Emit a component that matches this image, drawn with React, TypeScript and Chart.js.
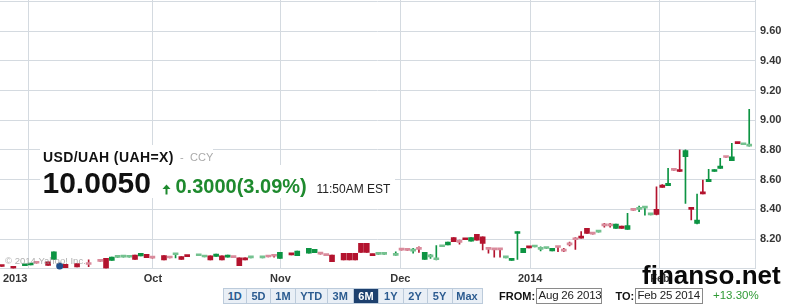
import React, { useEffect, useRef } from "react";
import { Chart, registerables } from "chart.js";

Chart.register(...registerables);

// Trading-day slot of each candle (Aug 26 2013 .. Feb 25 2014)
const dayIndex = [
  0, 2, 4, 5, 6, 8, 9, 11, 13, 15, 17, 18, 19, 20, 21, 22, 23, 24, 25, 26,
  28, 29, 30, 31, 32, 34, 35, 36, 37, 38, 39, 40, 41, 42, 43, 45, 46, 47, 48, 50,
  51, 53, 54, 55, 56, 57, 59, 60, 61, 62, 63, 64, 65, 66, 68, 69, 70, 71, 72, 73,
  74, 75, 76, 77, 78, 79, 80, 81, 82, 83, 84, 85, 86, 87, 88, 89, 90, 91, 92, 93,
  94, 95, 96, 97, 98, 99, 100, 101, 102, 103, 104, 105, 106, 107, 108, 109, 110, 111, 112, 113,
  114, 115, 116, 117, 118, 119, 120, 121, 122, 123, 124, 125, 126, 127, 128, 129,
];
const opens = [
  8.022, 8.013, 8.02, 8.025, 8.043, 8.047, 8.063, 8.03, 8.034, 8.03, 8.052, 8.07, 8.056, 8.076, 8.078, 8.077, 8.092, 8.086, 8.097, 8.073,
  8.088, 8.074, 8.094, 8.081, 8.087, 8.087, 8.079, 8.086, 8.083, 8.086, 8.077, 8.077, 8.074, 8.074, 8.073, 8.073, 8.083, 8.085, 8.07, 8.103,
  8.088, 8.104, 8.108, 8.103, 8.092, 8.092, 8.104, 8.104, 8.104, 8.171, 8.171, 8.099, 8.097, 8.097, 8.09, 8.127, 8.125, 8.118, 8.135, 8.063,
  8.08, 8.06, 8.148, 8.16, 8.209, 8.18, 8.205, 8.186, 8.232, 8.215, 8.133, 8.13, 8.13, 8.073, 8.055, 8.237, 8.108, 8.148, 8.146, 8.13,
  8.136, 8.12, 8.146, 8.122, 8.165, 8.2, 8.22, 8.272, 8.237, 8.246, 8.292, 8.29, 8.272, 8.287, 8.265, 8.397, 8.4, 8.408, 8.363, 8.4,
  8.564, 8.559, 8.666, 8.665, 8.755, 8.413, 8.305, 8.518, 8.586, 8.655, 8.676, 8.752, 8.727, 8.849, 8.835, 8.826,
];
const highs = [
  8.022, 8.013, 8.028, 8.036, 8.043, 8.047, 8.114, 8.03, 8.034, 8.059, 8.052, 8.07, 8.079, 8.078, 8.08, 8.079, 8.092, 8.104, 8.097, 8.073,
  8.088, 8.074, 8.097, 8.081, 8.087, 8.089, 8.081, 8.086, 8.099, 8.086, 8.092, 8.077, 8.074, 8.074, 8.075, 8.075, 8.083, 8.092, 8.11, 8.103,
  8.119, 8.137, 8.13, 8.103, 8.092, 8.092, 8.104, 8.104, 8.104, 8.171, 8.171, 8.099, 8.1, 8.1, 8.114, 8.127, 8.125, 8.137, 8.148, 8.11,
  8.097, 8.155, 8.152, 8.18, 8.209, 8.193, 8.205, 8.209, 8.232, 8.215, 8.137, 8.133, 8.133, 8.076, 8.07, 8.249, 8.137, 8.148, 8.149, 8.148,
  8.139, 8.137, 8.146, 8.137, 8.18, 8.21, 8.25, 8.272, 8.237, 8.248, 8.305, 8.305, 8.3, 8.287, 8.373, 8.397, 8.422, 8.413, 8.367, 8.552,
  8.566, 8.676, 8.666, 8.8, 8.8, 8.413, 8.503, 8.597, 8.67, 8.668, 8.743, 8.752, 8.845, 8.849, 8.838, 9.073,
];
const lows = [
  8.015, 8.003, 8.02, 8.025, 8.037, 8.022, 8.063, 8.007, 8.012, 8.013, 8.049, 8.003, 8.056, 8.076, 8.078, 8.077, 8.063, 8.086, 8.074, 8.071,
  8.059, 8.072, 8.072, 8.063, 8.081, 8.087, 8.079, 8.059, 8.083, 8.059, 8.077, 8.075, 8.02, 8.059, 8.073, 8.073, 8.079, 8.077, 8.07, 8.093,
  8.088, 8.104, 8.108, 8.098, 8.088, 8.047, 8.059, 8.059, 8.059, 8.11, 8.11, 8.088, 8.097, 8.097, 8.09, 8.125, 8.123, 8.104, 8.11, 8.063,
  8.07, 8.059, 8.148, 8.16, 8.182, 8.165, 8.195, 8.186, 8.193, 8.126, 8.104, 8.077, 8.077, 8.073, 8.055, 8.063, 8.108, 8.14, 8.146, 8.12,
  8.136, 8.12, 8.115, 8.115, 8.153, 8.13, 8.205, 8.238, 8.233, 8.246, 8.279, 8.279, 8.272, 8.272, 8.265, 8.393, 8.384, 8.36, 8.363, 8.362,
  8.548, 8.559, 8.662, 8.653, 8.44, 8.328, 8.302, 8.503, 8.586, 8.655, 8.676, 8.749, 8.727, 8.842, 8.835, 8.826,
];
const closes = [
  8.015, 8.003, 8.028, 8.036, 8.037, 8.022, 8.114, 8.007, 8.012, 8.028, 8.049, 8.003, 8.079, 8.078, 8.08, 8.079, 8.063, 8.104, 8.074, 8.071,
  8.059, 8.072, 8.097, 8.063, 8.081, 8.089, 8.081, 8.059, 8.099, 8.059, 8.092, 8.075, 8.02, 8.059, 8.075, 8.075, 8.079, 8.084, 8.11, 8.093,
  8.119, 8.137, 8.13, 8.098, 8.088, 8.047, 8.059, 8.059, 8.059, 8.11, 8.11, 8.088, 8.1, 8.1, 8.094, 8.125, 8.123, 8.122, 8.13, 8.11,
  8.083, 8.065, 8.152, 8.18, 8.182, 8.177, 8.195, 8.209, 8.193, 8.171, 8.13, 8.127, 8.127, 8.076, 8.07, 8.245, 8.137, 8.14, 8.149, 8.133,
  8.139, 8.137, 8.143, 8.118, 8.16, 8.195, 8.205, 8.238, 8.233, 8.248, 8.288, 8.288, 8.3, 8.272, 8.29, 8.393, 8.402, 8.412, 8.367, 8.366,
  8.548, 8.575, 8.662, 8.655, 8.795, 8.4, 8.327, 8.503, 8.602, 8.668, 8.692, 8.749, 8.754, 8.842, 8.838, 8.83,
];

// Marker (event dot near the bottom)
const eventIdx = [10];
const eventValue = [8.018];

// Axis ticks
const monthTickPos = [4.6, 26.1, 48.1, 68.8, 91.2, 113.6];
const monthLabels = ["2013", "Oct", "Nov", "Dec", "2014", "Feb"];
const yGridValues = [8.0, 8.2, 8.4, 8.6, 8.8, 9.0, 9.2, 9.4, 9.6, 9.8];
const yLabelValues = [8.2, 8.4, 8.6, 8.8, 9.0, 9.2, 9.4, 9.6];

const rangeButtons = ["1D", "5D", "1M", "YTD", "3M", "6M", "1Y", "2Y", "5Y", "Max"];
const rangeWidths = [23.5, 24, 25, 31.5, 26.5, 25, 24.5, 24, 25, 30];
const selectedRange = "6M";

const FONT = '"Liberation Sans", Arial, Helvetica, sans-serif';
const GRID = "#d4dae0";
const UP = "#0d9443";
const DN = "#b3132e";
const UP_L = "#74c18f";
const DN_L = "#d98a9b";

function txt(left: number, top: number, size: number, weight: any, color: string, extra?: React.CSSProperties): React.CSSProperties {
  return {
    position: "absolute",
    left,
    top,
    fontSize: size,
    fontWeight: weight,
    color,
    lineHeight: `${size}px`,
    whiteSpace: "nowrap",
    fontFamily: FONT,
    ...(extra || {}),
  };
}

export default function App() {
  const ref = useRef<HTMLCanvasElement>(null);

  useEffect(() => {
    const canvas = ref.current;
    if (!canvas) return;
    const isUp = (i: number) => closes[i] >= opens[i];
    const small = (i: number) => Math.abs(closes[i] - opens[i]) < 0.006;
    const bodyData = dayIndex.map((x, i) => ({
      x,
      y: [Math.min(opens[i], closes[i]), Math.max(opens[i], closes[i])],
    }));
    const wickData = dayIndex.map((x, i) => ({ x, y: [lows[i], highs[i]] }));
    const bodyColors = dayIndex.map((_, i) =>
      isUp(i) ? (small(i) ? UP_L : UP) : small(i) ? DN_L : DN
    );
    const wickColors = dayIndex.map((_, i) => (isUp(i) ? UP : DN));

    const labelsPlugin = {
      id: "customLabels",
      afterDraw(chart: any) {
        const c = chart.ctx;
        const xs = chart.scales.x;
        const ys = chart.scales.y;
        c.save();
        c.fillStyle = "#363636";
        c.font = `bold 11px ${FONT}`;
        c.textBaseline = "alphabetic";
        c.textAlign = "left";
        monthTickPos.forEach((v, i) => {
          const px = xs.getPixelForValue(v);
          const w = c.measureText(monthLabels[i]).width;
          // labels too close to the left edge are pinned to it
          let left = px - xs.left < 40 ? xs.left + 3 : px - w / 2;
          c.fillText(monthLabels[i], left, 282);
        });
        c.textBaseline = "middle";
        yLabelValues.forEach((v) => {
          c.fillText(v.toFixed(2), ys.left + 5, ys.getPixelForValue(v));
        });
        c.font = `9.5px ${FONT}`;
        c.fillStyle = "rgba(150,150,150,0.75)";
        c.textBaseline = "alphabetic";
        c.fillText("\u00A9 2014 Yahoo! Inc.", 5, 264);
        c.restore();
      },
    };

    const chart = new Chart(canvas, {
      type: "bar",
      data: {
        datasets: [
          {
            type: "bar",
            data: wickData as any,
            backgroundColor: wickColors,
            barThickness: 1,
            grouped: false,
            order: 2,
          } as any,
          {
            type: "bar",
            data: bodyData as any,
            backgroundColor: bodyColors,
            barThickness: 5,
            minBarLength: 2,
            grouped: false,
            order: 1,
          } as any,
          {
            type: "scatter",
            data: eventIdx.map((x, i) => ({ x, y: eventValue[i] })),
            pointRadius: 3.5,
            pointBackgroundColor: "#1f4f8c",
            pointBorderWidth: 0,
            clip: false,
            order: 0,
          } as any,
        ],
      },
      options: {
        responsive: false,
        animation: false,
        devicePixelRatio: 1,
        layout: { padding: 0, autoPadding: false },
        plugins: { legend: { display: false }, tooltip: { enabled: false } },
        scales: {
          x: {
            type: "linear",
            min: -0.3,
            max: 130,
            offset: false,
            grid: { color: GRID, drawTicks: false, offset: false },
            border: { color: GRID },
            ticks: { display: false },
            afterBuildTicks: (s: any) => {
              s.ticks = monthTickPos.map((v) => ({ value: v }));
            },
            afterFit: (s: any) => {
              s.height = 36.3;
            },
          },
          y: {
            type: "linear",
            position: "right",
            min: 8.0,
            max: 9.81,
            beginAtZero: false,
            grid: { color: GRID, drawTicks: false },
            border: { color: GRID },
            ticks: { display: false },
            afterBuildTicks: (s: any) => {
              s.ticks = yGridValues.map((v) => ({ value: v }));
            },
            afterFit: (s: any) => {
              s.width = 43;
            },
          },
        },
      } as any,
      plugins: [labelsPlugin],
    });
    return () => chart.destroy();
  }, []);

  let bx = 222.5;
  const buttons = rangeButtons.map((b, i) => {
    const left = bx;
    bx += rangeWidths[i];
    const sel = b === selectedRange;
    return (
      <div
        key={b}
        style={{
          position: "absolute",
          left,
          top: 287.5,
          width: rangeWidths[i] + 1,
          height: 16,
          boxSizing: "border-box",
          border: "1px solid #bccbdb",
          background: sel ? "#1d406e" : "#e9eff6",
          color: sel ? "#ffffff" : "#2b5b90",
          fontFamily: FONT,
          fontWeight: "bold",
          fontSize: 11,
          lineHeight: "14px",
          textAlign: "center",
        }}
      >
        {b}
      </div>
    );
  });

  return (
    <div
      style={{
        position: "fixed",
        left: 0,
        top: 0,
        width: 798,
        height: 305,
        background: "#ffffff",
        overflow: "hidden",
        fontFamily: FONT,
      }}
    >
      <canvas
        ref={ref}
        width={798}
        height={305}
        style={{ position: "absolute", left: 0, top: 0, width: 798, height: 305 }}
      />
      <div style={{ position: "absolute", left: 40, top: 145, width: 173, height: 20, background: "#fff" }} />
      <div style={{ position: "absolute", left: 40, top: 165, width: 355, height: 33, background: "#fff" }} />
      <span style={txt(43, 149.8, 14, "bold", "#111", { letterSpacing: 0.4 })}>USD/UAH (UAH=X)</span>
      <span style={txt(180, 152.4, 11, "normal", "#aaaaaa")}>-</span>
      <span style={txt(190, 152.4, 11, "normal", "#aaaaaa")}>CCY</span>
      <span style={txt(42.5, 167.9, 30, "bold", "#111")}>10.0050</span>
      <svg style={{ position: "absolute", left: 162, top: 184, width: 10, height: 11 }} viewBox="0 0 10 11">
        <polygon points="4.5,0.5 0.5,5 8.5,5" fill="#1e8a2e" />
        <rect x="3.5" y="5" width="2" height="5.5" fill="#1e8a2e" />
      </svg>
      <span style={txt(175.5, 176.4, 20, "bold", "#1e8a2e")}>0.3000(3.09%)</span>
      <span style={txt(316.5, 183.3, 12, "normal", "#222")}>11:50AM EST</span>

      {buttons}

      <span style={txt(499, 290.7, 11, "bold", "#111")}>FROM:</span>
      <div
        style={{
          position: "absolute",
          left: 536,
          top: 288,
          width: 66,
          height: 16,
          boxSizing: "border-box",
          border: "1px solid #8a8a8a",
          background: "#fff",
        }}
      />
      <span style={txt(538.5, 290.2, 11.5, "normal", "#222", { letterSpacing: -0.2 })}>Aug 26 2013</span>
      <span style={txt(615.5, 290.7, 11, "bold", "#111")}>TO:</span>
      <div
        style={{
          position: "absolute",
          left: 635,
          top: 288,
          width: 68,
          height: 16,
          boxSizing: "border-box",
          border: "1px solid #8a8a8a",
          background: "#fff",
        }}
      />
      <span style={txt(637.5, 290.2, 11.5, "normal", "#222", { letterSpacing: -0.2 })}>Feb 25 2014</span>
      <span style={txt(713, 290.2, 11.5, "normal", "#2f9a35")}>+13.30%</span>

      <span style={txt(642, 262, 26, "bold", "#0a0a0a")}>finanso.net</span>
    </div>
  );
}
